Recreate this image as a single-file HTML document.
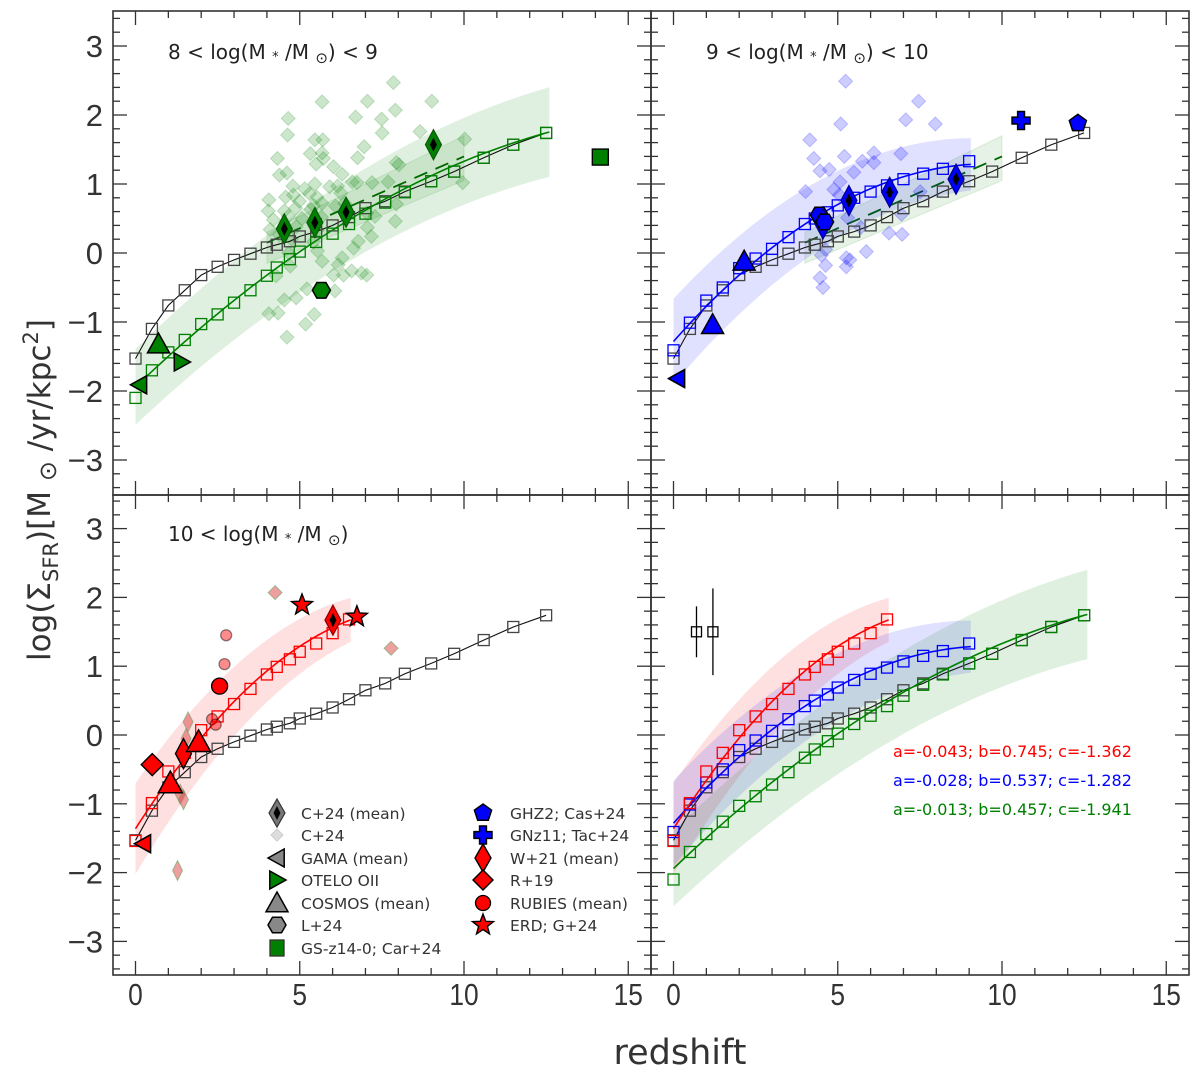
<!DOCTYPE html>
<html><head><meta charset="utf-8"><style>
html,body{margin:0;padding:0;background:#fff;}
svg{display:block;font-family:"Liberation Sans",sans-serif;}
</style></head><body>
<svg id="fig" width="1200" height="1083" viewBox="0 0 1200 1083" xmlns="http://www.w3.org/2000/svg"></svg>
<script>
// ---- data ----
const zGrid = [0,0.5,1,1.5,2,2.5,3,3.5,4,4.3,4.7,5,5.5,6,6.5,7,7.6,8.2,9,9.7,10.6,11.5,12.5];
const blackVals = [-1.53,-1.10,-0.76,-0.54,-0.32,-0.20,-0.10,-0.01,0.08,0.12,0.17,0.24,0.31,0.40,0.52,0.65,0.75,0.89,1.04,1.18,1.38,1.57,1.74];
const greenVals = [-2.10,-1.70,-1.44,-1.26,-1.03,-0.89,-0.72,-0.54,-0.33,-0.21,-0.09,0.02,0.16,0.28,0.42,0.57,0.73,0.88,1.04,1.18,1.38,1.57,1.74];
const blueVals = [-1.41,-1.01,-0.69,-0.50,-0.22,-0.08,0.06,0.23,0.42,0.50,0.59,0.69,0.80,0.89,0.98,1.07,1.15,1.22,1.33];
const redVals = [-1.54,-0.99,-0.53,-0.26,0.07,0.27,0.45,0.67,0.88,0.99,1.10,1.21,1.33,1.48,1.68];
const fitGreen = [-0.013,0.457,-1.941], fitBlue = [-0.028,0.537,-1.282], fitRed = [-0.043,0.745,-1.362];
const zMaxGreen = 12.6, zMaxBlue = 9.05, zMaxRed = 6.55;
const bandGreen = [0.55,0.65], bandBlue = [0.62,0.38], bandRed = [0.66,0.32];
const c24LowZ = [7.85,5.68,9.02,4.65,6.70,7.91,7.49,4.63,7.51,8.66,5.46,5.70,6.96,10.02,5.32,5.68,4.32,6.76,5.50,5.72,7.94,8.02,6.03,4.61,4.38,6.29,6.60,6.74,7.20,7.69,9.96,4.79,5.15,5.46,5.91,6.15,4.06,4.57,4.81,5.30,5.52,6.25,4.99,5.42,5.68,6.09,6.37,7.94,4.04,4.53,4.87,5.34,7.04,4.20,4.65,5.07,5.66,7.29,7.91,4.10,4.89,5.54,7.06,7.18,4.38,4.75,5.42,5.54,6.78,6.64,4.67,5.68,6.29,4.71,6.17,6.58,6.88,7.04,6.03,6.33,4.28,5.22,6.07,4.53,4.89,4.06,4.34,5.44,5.18,4.61,7.06];
const c24LowV = [2.47,2.19,2.20,1.95,1.97,2.07,1.94,1.71,1.74,1.76,1.64,1.64,1.54,1.65,1.44,1.45,1.37,1.38,1.29,1.37,1.31,1.28,1.25,1.16,1.13,1.14,1.03,1.02,1.02,1.03,1.02,0.97,0.93,1.00,0.96,0.97,0.77,0.81,0.84,0.86,0.81,0.87,0.75,0.69,0.72,0.68,0.72,0.71,0.61,0.61,0.65,0.63,0.58,0.48,0.53,0.50,0.52,0.53,0.46,0.34,0.38,0.33,0.37,0.24,0.26,0.20,0.16,0.03,0.17,0.07,0.00,-0.12,-0.07,-0.19,-0.17,-0.26,-0.29,-0.32,-0.32,-0.32,-0.33,-0.52,-0.55,-0.68,-0.65,-0.88,-0.87,-0.89,-1.03,-1.22,2.20];
const c24MidZ = [5.24,7.46,5.09,7.07,7.97,4.15,4.27,5.20,5.75,6.10,6.10,6.92,4.46,4.74,5.49,5.07,4.02,4.88,5.05,7.51,5.30,6.94,5.70,6.56,6.96,4.63,4.50,5.87,5.26,5.37,4.63,5.26,4.46,4.55];
const c24MidV = [2.49,2.20,1.87,1.93,1.87,1.64,1.37,1.40,1.33,1.45,1.31,1.44,1.19,1.21,1.17,1.03,0.89,0.92,0.84,0.89,0.51,0.56,0.37,0.29,0.27,0.05,-0.03,0.02,-0.07,-0.10,-0.18,-0.20,-0.36,-0.50];
const c24HighZ = [4.25,7.78,1.60,1.54,1.36,1.46,1.28];
const c24HighV = [2.07,1.26,0.19,-0.05,-0.86,-0.94,-1.97];
const meanLowZ = [4.53,5.46,6.41,9.07], meanLowV = [0.35,0.44,0.59,1.57];
const meanMidZ = [4.55,5.34,6.58,8.60], meanMidV = [0.42,0.76,0.88,1.07];
const dashZ = [4.0,10.0], dashV = [0.15,1.40];
const boxZ = [4.0,10.0], boxLo = [-0.15,1.05], boxHi = [0.30,1.70];
const rubiesZ = [2.76,2.71,2.33,2.44], rubiesV = [1.45,1.03,0.23,0.15];
const errZ = [0.7,1.2], errV = [1.5,1.5], errHalf = [0.37,0.63];
// ---- layout ----
const svg = document.getElementById('fig');
const NS = 'http://www.w3.org/2000/svg';
function mk(tag, at, parent){const e=document.createElementNS(NS,tag);for(const k in at)e.setAttribute(k,at[k]);(parent||svg).appendChild(e);return e;}
const panels = {
 tl:{x0:113,x1:651,y0:11,y1:495,yz:253,yk:69},
 tr:{x0:651,x1:1189,y0:11,y1:495,yz:253,yk:69},
 bl:{x0:113,x1:651,y0:495,y1:975,yz:735,yk:68.8},
 br:{x0:651,x1:1189,y0:495,y1:975,yz:735,yk:68.8}
};
function X(p,z){return p.x0+22.5+z*32.85;}
function Y(p,v){return p.yz-v*p.yk;}
function quad(f,z){return f[0]*z*z+f[1]*z+f[2];}
function clipG(p,name){
  const id='clip-'+name;
  const cp=mk('clipPath',{id:id});
  mk('rect',{x:p.x0,y:p.y0,width:p.x1-p.x0,height:p.y1-p.y0},cp);
  const g=mk('g',{'clip-path':'url(#'+id+')'});
  
  
  return g;
}
function band(p,g,f,zmax,hw,color,name){
  let up=[],lo=[];
  for(let i=0;i<=60;i++){const z=zmax*i/60;const h=hw[0]+(hw[1]-hw[0])*i/60;const v=quad(f,z);
    up.push(X(p,z).toFixed(1)+','+Y(p,v+h).toFixed(1));lo.unshift(X(p,z).toFixed(1)+','+Y(p,v-h).toFixed(1));}
  const e=mk('polygon',{points:up.concat(lo).join(' '),fill:color,'fill-opacity':0.12,stroke:'none'},g);
  
  
}
function fitLine(p,g,f,zmax,color,name){
  let pts=[];for(let i=0;i<=60;i++){const z=zmax*i/60;pts.push(X(p,z).toFixed(1)+','+Y(p,quad(f,z)).toFixed(1));}
  const e=mk('polyline',{points:pts.join(' '),fill:'none',stroke:color,'stroke-width':1.6},g);
  
  
}
function squares(p,g,vals,color,name,line){
  if(line){const pts=vals.map((v,i)=>X(p,zGrid[i]).toFixed(1)+','+Y(p,v).toFixed(1));
    const l=mk('polyline',{points:pts.join(' '),fill:'none',stroke:'#111','stroke-width':1.1},g);
    
    }
  vals.forEach((v,i)=>{const s=mk('rect',{x:X(p,zGrid[i])-5.5,y:Y(p,v)-5.5,width:11,height:11,fill:'none',stroke:color,'stroke-width':1.3},g);
    
    });
}
function diamond(g,cx,cy,w,h,fill,stroke,sw,op,name){
  const e=mk('polygon',{points:`${cx},${cy-h} ${cx+w},${cy} ${cx},${cy+h} ${cx-w},${cy}`,fill:fill,stroke:stroke,'stroke-width':sw,'fill-opacity':op,'stroke-opacity':op},g);
  
  
  return e;
}
function tri(g,cx,cy,s,dir,fill,name){
  let pts;
  if(dir==='up')pts=`${cx},${cy-s} ${cx+s},${cy+s*0.8} ${cx-s},${cy+s*0.8}`;
  else if(dir==='left')pts=`${cx-s},${cy} ${cx+s*0.8},${cy-s} ${cx+s*0.8},${cy+s}`;
  else pts=`${cx+s},${cy} ${cx-s*0.8},${cy-s} ${cx-s*0.8},${cy+s}`;
  const e=mk('polygon',{points:pts,fill:fill,stroke:'#000','stroke-width':1.5},g);
  
  
}
function poly(g,cx,cy,r,n,rot,fill,name){
  let pts=[];for(let i=0;i<n;i++){const a=rot+i*2*Math.PI/n;pts.push((cx+r*Math.cos(a)).toFixed(1)+','+(cy+r*Math.sin(a)).toFixed(1));}
  const e=mk('polygon',{points:pts.join(' '),fill:fill,stroke:'#000','stroke-width':1.5},g);
  
  
}
function star(g,cx,cy,r,fill,name){
  let pts=[];for(let i=0;i<10;i++){const a=-Math.PI/2+i*Math.PI/5;const rr=i%2?r*0.42:r;pts.push((cx+rr*Math.cos(a)).toFixed(1)+','+(cy+rr*Math.sin(a)).toFixed(1));}
  const e=mk('polygon',{points:pts.join(' '),fill:fill,stroke:'#000','stroke-width':1.4},g);
  
  
}
function cross(g,cx,cy,s,fill,name){
  const a=s*0.38;
  const pts=[[-a,-s],[a,-s],[a,-a],[s,-a],[s,a],[a,a],[a,s],[-a,s],[-a,a],[-s,a],[-s,-a],[-a,-a]].map(q=>(cx+q[0])+','+(cy+q[1])).join(' ');
  const e=mk('polygon',{points:pts,fill:fill,stroke:'#000','stroke-width':1.5},g);
  
  
}
function circ(g,cx,cy,r,fill,op,name){
  const e=mk('circle',{cx:cx,cy:cy,r:r,fill:fill,stroke:'#000','stroke-width':1.3,'fill-opacity':op,'stroke-opacity':op},g);
  
  
}
function boxDash(p,g){
  const pts=`${X(p,boxZ[0])},${Y(p,boxLo[0])} ${X(p,boxZ[1])},${Y(p,boxLo[1])} ${X(p,boxZ[1])},${Y(p,boxHi[1])} ${X(p,boxZ[0])},${Y(p,boxHi[0])}`;
  const b=mk('polygon',{points:pts,fill:'green','fill-opacity':0.1,stroke:'green','stroke-opacity':0.12},g);
  
  
  const d=mk('line',{x1:X(p,dashZ[0]),y1:Y(p,dashV[0]),x2:X(p,dashZ[1]),y2:Y(p,dashV[1]),stroke:'#006400','stroke-width':1.8,'stroke-dasharray':'14,9'},g);
  
  
}
function axes(p,name,showYLabels,showXLabels){
  const g=mk('g',{});
  
  
  mk('rect',{x:p.x0,y:p.y0,width:p.x1-p.x0,height:p.y1-p.y0,fill:'none',stroke:'#333','stroke-width':1.6},g);
  for(let z=0;z<=15;z++){const x=X(p,z);const L=z%5===0?14:7;
    mk('line',{x1:x,y1:p.y1,x2:x,y2:p.y1-L,stroke:'#333','stroke-width':1.3},g);
    mk('line',{x1:x,y1:p.y0,x2:x,y2:p.y0+L,stroke:'#333','stroke-width':1.3},g);
    if(showXLabels&&z%5===0){const t=mk('text',{x:x,y:1005,'text-anchor':'middle','font-size':31,fill:'#333',transform:`translate(${x},0) scale(0.85,1) translate(${-x},0)`},g);t.textContent=String(z);}
  }
  for(let k=-17;k<=17;k++){const v=k*0.2;const y=Y(p,v);if(y<p.y0+1||y>p.y1-1)continue;const major=k%5===0;const L=major?14:7;
    mk('line',{x1:p.x0,y1:y,x2:p.x0+L,y2:y,stroke:'#333','stroke-width':1.3},g);
    mk('line',{x1:p.x1,y1:y,x2:p.x1-L,y2:y,stroke:'#333','stroke-width':1.3},g);
    if(showYLabels&&major){const t=mk('text',{x:103,y:y+11,'text-anchor':'end','font-size':31,fill:'#333'},g);t.textContent=(v<0?'\u2212':'')+Math.abs(Math.round(v));}
  }
}
// ---------- panels ----------
const tl=panels.tl,tr=panels.tr,bl=panels.bl,br=panels.br;
// TL
let g=clipG(tl,'low-mass');
boxDash(tl,g);
band(tl,g,fitGreen,zMaxGreen,bandGreen,'green','green');
c24LowZ.forEach((z,i)=>diamond(g,X(tl,z),Y(tl,c24LowV[i]),7,7,'green','green',1,0.2,'c24-point'));
squares(tl,g,blackVals,'#444','black-reference',true);
fitLine(tl,g,fitGreen,zMaxGreen,'green','green');
squares(tl,g,greenVals,'green','green',false);
meanLowZ.forEach((z,i)=>{diamond(g,X(tl,z),Y(tl,meanLowV[i]),8,15,'green','#0a5a0a',1.2,1,'c24-mean-marker');diamond(g,X(tl,z),Y(tl,meanLowV[i]),3.5,7,'#000','#000',0,1,'c24-mean-core');});
poly(g,X(tl,5.66),Y(tl,-0.54),9,6,0,'green','l24-marker');
tri(g,X(tl,0.70),Y(tl,-1.32),11,'up','green','cosmos-marker');
tri(g,X(tl,0.12),Y(tl,-1.91),9,'left','green','gama-marker');
tri(g,X(tl,1.40),Y(tl,-1.58),9,'right','green','otelo-marker');
let sq=mk('rect',{x:X(tl,14.15)-8,y:Y(tl,1.39)-8,width:16,height:16,fill:'green',stroke:'#000','stroke-width':1.4},g);


// TR
g=clipG(tr,'mid-mass');
boxDash(tr,g);
band(tr,g,fitBlue,zMaxBlue,bandBlue,'blue','blue');
c24MidZ.forEach((z,i)=>diamond(g,X(tr,z),Y(tr,c24MidV[i]),7,7,'blue','blue',1,0.2,'c24-point'));
squares(tr,g,blackVals,'#444','black-reference',true);
fitLine(tr,g,fitBlue,zMaxBlue,'blue','blue');
squares(tr,g,blueVals,'blue','blue',false);
poly(g,X(tr,4.44),Y(tr,0.55),9,6,0,'blue','l24-marker');
meanMidZ.forEach((z,i)=>{diamond(g,X(tr,z),Y(tr,meanMidV[i]),8,15,'blue','#00008b',1.2,1,'c24-mean-marker');diamond(g,X(tr,z),Y(tr,meanMidV[i]),3.5,7,'#000','#000',0,1,'c24-mean-core');});
poly(g,X(tr,4.6),Y(tr,0.45),9,6,0,'blue','l24-marker');
tri(g,X(tr,2.15),Y(tr,-0.12),11,'up','blue','cosmos-marker');
tri(g,X(tr,1.19),Y(tr,-1.04),11,'up','blue','cosmos-marker');
tri(g,X(tr,0.12),Y(tr,-1.82),9,'left','blue','gama-marker');
cross(g,X(tr,10.58),Y(tr,1.92),9,'blue','gnz11-marker');
poly(g,X(tr,12.31),Y(tr,1.88),9,5,-Math.PI/2,'blue','ghz2-marker');
// BL
g=clipG(bl,'high-mass');
band(bl,g,fitRed,zMaxRed,bandRed,'red','red');
c24HighZ.forEach((z,i)=>diamond(g,X(bl,z),Y(bl,c24HighV[i]),(i>1?5:7),(i>1?10:7),'#e05050','#60a060',1,0.55,'c24-point'));
squares(bl,g,blackVals,'#444','black-reference',true);
fitLine(bl,g,fitRed,zMaxRed,'red','red');
squares(bl,g,redVals,'red','red',false);
rubiesZ.forEach((z,i)=>circ(g,X(bl,z),Y(bl,rubiesV[i]),5.5,'red',0.45,'rubies-point'));
circ(g,X(bl,2.56),Y(bl,0.71),8,'red',1,'rubies-mean-marker');
diamond(g,X(bl,0.51),Y(bl,-0.43),11,11,'red','#000',1.4,1,'r19-marker');
diamond(g,X(bl,1.46),Y(bl,-0.27),8,15,'red','#000',1.4,1,'w21-marker');
diamond(g,X(bl,6.01),Y(bl,1.67),8,15,'red','#8b0000',1.2,1,'c24-mean-marker');
diamond(g,X(bl,6.01),Y(bl,1.67),3.5,7,'#000','#000',0,1,'c24-mean-core');
tri(g,X(bl,1.92),Y(bl,-0.10),12,'up','red','cosmos-marker');
tri(g,X(bl,1.06),Y(bl,-0.70),12,'up','red','cosmos-marker');
tri(g,X(bl,0.24),Y(bl,-1.58),9,'left','red','gama-marker');
star(g,X(bl,5.07),Y(bl,1.89),11,'red','erd-marker');
star(g,X(bl,6.74),Y(bl,1.72),11,'red','erd-marker');
// BR
g=clipG(br,'all-mass');
band(br,g,fitRed,zMaxRed,bandRed,'red','red');
band(br,g,fitBlue,zMaxBlue,bandBlue,'blue','blue');
band(br,g,fitGreen,zMaxGreen,bandGreen,'green','green');
squares(br,g,blackVals,'#444','black-reference',true);
fitLine(br,g,fitGreen,zMaxGreen,'green','green');
fitLine(br,g,fitBlue,zMaxBlue,'blue','blue');
fitLine(br,g,fitRed,zMaxRed,'red','red');
squares(br,g,greenVals,'green','green',false);
squares(br,g,blueVals,'blue','blue',false);
squares(br,g,redVals,'red','red',false);
errZ.forEach((z,i)=>{const x=X(br,z);
  const l=mk('line',{x1:x,y1:Y(br,errV[i]+errHalf[i]),x2:x,y2:Y(br,errV[i]-errHalf[i]),stroke:'#000','stroke-width':1.3},g);
  
  
  const s=mk('rect',{x:x-5,y:Y(br,errV[i])-5,width:10,height:10,fill:'none',stroke:'#000','stroke-width':1.3},g);
  
  });
const coefTxt=[['a=-0.043; b=0.745; c=-1.362','red',757],['a=-0.028; b=0.537; c=-1.282','blue',786],['a=-0.013; b=0.457; c=-1.941','green',815]];
coefTxt.forEach(c=>{const t=mk('text',{x:893,y:c[2],'font-size':16,fill:c[1],'font-family':'"DejaVu Sans",sans-serif'});
  
  
  t.textContent=c[0];});
axes(tl,'top-left',true,false);
axes(tr,'top-right',false,false);
axes(bl,'bottom-left',true,true);
axes(br,'bottom-right',false,true);
// panel labels
function label(x,y,html,name){const t=mk('text',{x:x,y:y,'font-size':20,fill:'#222','font-family':'"DejaVu Sans",sans-serif'});t.innerHTML=html;
  
  }
const mlab='log(M <tspan font-size="13" dy="2">*</tspan><tspan dy="-2"> /M </tspan><tspan font-size="15" dy="4">\u2299</tspan><tspan dy="-4">)';
label(168,59,'8 &lt; '+mlab+' &lt; 9</tspan>','low-mass-label');
label(706,59,'9 &lt; '+mlab+' &lt; 10</tspan>','mid-mass-label');
label(168,541,'10 &lt; '+mlab+'</tspan>','high-mass-label');
// axis titles
let xt=mk('text',{x:680,y:1064,'text-anchor':'middle','font-size':35,fill:'#333','font-family':'"DejaVu Sans",sans-serif'});


xt.textContent='redshift';
let yt=mk('text',{x:0,y:0,'text-anchor':'middle','font-size':31,fill:'#333','font-family':'"DejaVu Sans",sans-serif',transform:'translate(50,490) rotate(-90)'});


yt.innerHTML='log(\u03A3<tspan font-size="21" dy="8">SFR</tspan><tspan dy="-8">)[M </tspan><tspan font-size="24" dy="6">\u2299</tspan><tspan dy="-6"> /yr/kpc</tspan><tspan font-size="21" dy="-12">2</tspan><tspan dy="12">]</tspan>';
// legend
const lg=mk('g',{});


const rows=[813,835,858,880,903,925,948];
const leg1=['C+24 (mean)','C+24','GAMA (mean)','OTELO OII','COSMOS (mean)','L+24','GS-z14-0; Car+24'];
const leg2=['GHZ2; Cas+24','GNz11; Tac+24','W+21 (mean)','R+19','RUBIES (mean)','ERD; G+24'];
diamond(lg,277,rows[0],8,14,'#777','#333',1.2,1,'legend-marker');diamond(lg,277,rows[0],3.5,7,'#000','#000',0,1,'legend-marker-core');
diamond(lg,277,rows[1],6,6,'#ddd','#ccc',1,1,'legend-marker');
tri(lg,277,rows[2],9,'left','#888','legend-marker');
tri(lg,277,rows[3],9,'right','green','legend-marker');
tri(lg,277,rows[4],11,'up','#888','legend-marker');
poly(lg,277,rows[5],9,6,0,'#888','legend-marker');
let ls=mk('rect',{x:270,y:rows[6]-8,width:14,height:16,fill:'green',stroke:'#333','stroke-width':1.3},lg);


poly(lg,483,rows[0],9,5,-Math.PI/2,'blue','legend-marker');
cross(lg,483,rows[1],9,'blue','legend-marker');
diamond(lg,483,rows[2],8,14,'red','#000',1.4,1,'legend-marker');
diamond(lg,483,rows[3],10,10,'red','#000',1.4,1,'legend-marker');
circ(lg,483,rows[4],7.5,'red',1,'legend-marker');
star(lg,483,rows[5],11,'red','legend-marker');
leg1.forEach((s,i)=>{const t=mk('text',{x:301,y:rows[i]+6,'font-size':15.5,fill:'#333','font-family':'"DejaVu Sans",sans-serif'},lg);
  
  
  t.textContent=s;});
leg2.forEach((s,i)=>{const t=mk('text',{x:510,y:rows[i]+6,'font-size':15.5,fill:'#333','font-family':'"DejaVu Sans",sans-serif'},lg);
  
  
  t.textContent=s;});
</script>
</body></html>
